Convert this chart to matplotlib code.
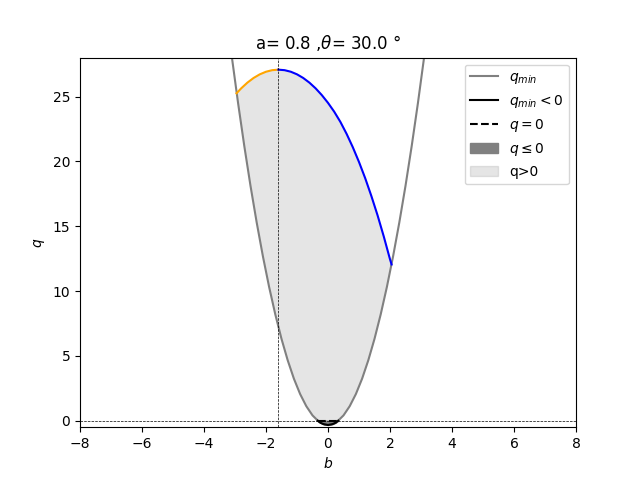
import numpy as np
import matplotlib
matplotlib.use('Agg')
import matplotlib.pyplot as plt
from matplotlib.lines import Line2D
from matplotlib.patches import Patch

a = 0.8
theta = 30.0
b_star = -1.6

# q_min curve
b_qmin = [-3.1, -2.9, -2.7, -2.5, -2.3, -2.1, -1.9, -1.7, -1.5, -1.3, -1.1, -0.9, -0.7, -0.5, -0.3, -0.1,
          0.1, 0.3, 0.5, 0.7, 0.9, 1.1, 1.3, 1.5, 1.7, 1.9, 2.1, 2.3, 2.5, 2.7, 2.9, 3.1]
q_min = [28.02, 24.48, 21.18, 18.11, 15.28, 12.68, 10.32, 8.20, 6.31, 4.66, 3.24, 2.06, 1.12, 0.41, -0.06, -0.30,
         -0.30, -0.06, 0.41, 1.12, 2.06, 3.24, 4.66, 6.31, 8.20, 10.32, 12.68, 15.28, 18.11, 21.18, 24.48, 28.02]

# part of q_min below zero
b_neg = [-0.33, -0.25, -0.15, 0.0, 0.15, 0.25, 0.33]
q_neg = [0.0, -0.15, -0.26, -0.33, -0.26, -0.15, 0.0]

# upper boundary, orange and blue pieces
b_orange = [-2.95, -2.8, -2.6, -2.4, -2.2, -2.0, -1.8, -1.6]
q_orange = [25.25, 25.63, 26.07, 26.43, 26.71, 26.91, 27.03, 27.07]
b_blue = [-1.6, -1.4, -1.2, -1.0, -0.8, -0.6, -0.4, -0.2, 0.0, 0.2, 0.4, 0.6, 0.8, 1.0,
          1.2, 1.4, 1.6, 1.8, 2.0, 2.05]
q_blue = [27.07, 27.03, 26.91, 26.71, 26.43, 26.07, 25.63, 25.11, 24.51, 23.83, 23.04, 22.12, 21.09, 19.95,
          18.70, 17.32, 15.83, 14.20, 12.45, 12.05]

fig, ax = plt.subplots(figsize=(6.4, 4.8), dpi=100)

# region q>0 : upper curve then back along q_min
b_up = b_orange + b_blue[1:]
q_up = q_orange + q_blue[1:]
lo = [(b, q) for b, q in zip(b_qmin, q_min) if b_up[0] < b < b_up[-1]]
poly_b = b_up + [p[0] for p in lo[::-1]]
poly_q = q_up + [p[1] for p in lo[::-1]]
ax.fill(poly_b, poly_q, color='gray', alpha=0.2, lw=0)

ax.fill_between(b_neg, q_neg, 0, color='gray')

ax.plot(b_qmin, q_min, color='gray')
ax.plot(b_neg, q_neg, color='black')
ax.plot(b_neg, np.zeros(len(b_neg)), 'k--')
ax.plot(b_orange, q_orange, color='orange')
ax.plot(b_blue, q_blue, color='blue')

ax.axhline(0, color='black', ls='--', lw=0.5)
ax.axvline(b_star, color='black', ls='--', lw=0.5)

ax.set_xlim(-8, 8)
ax.set_ylim(-0.5, 28)
ax.set_xlabel('$b$')
ax.set_ylabel('$q$')
ax.set_title('a= ' + str(a) + ' ,$\\theta$= ' + str(theta) + ' °')

handles = [Line2D([], [], color='gray', label='$q_{min}$'),
           Line2D([], [], color='black', label='$q_{min}<0$'),
           Line2D([], [], color='black', ls='--', label='$q=0$'),
           Patch(color='gray', label='$q\\leq0$'),
           Patch(color='gray', alpha=0.2, label='q>0')]
ax.legend(handles=handles, loc='upper right')

plt.savefig('out.png')
